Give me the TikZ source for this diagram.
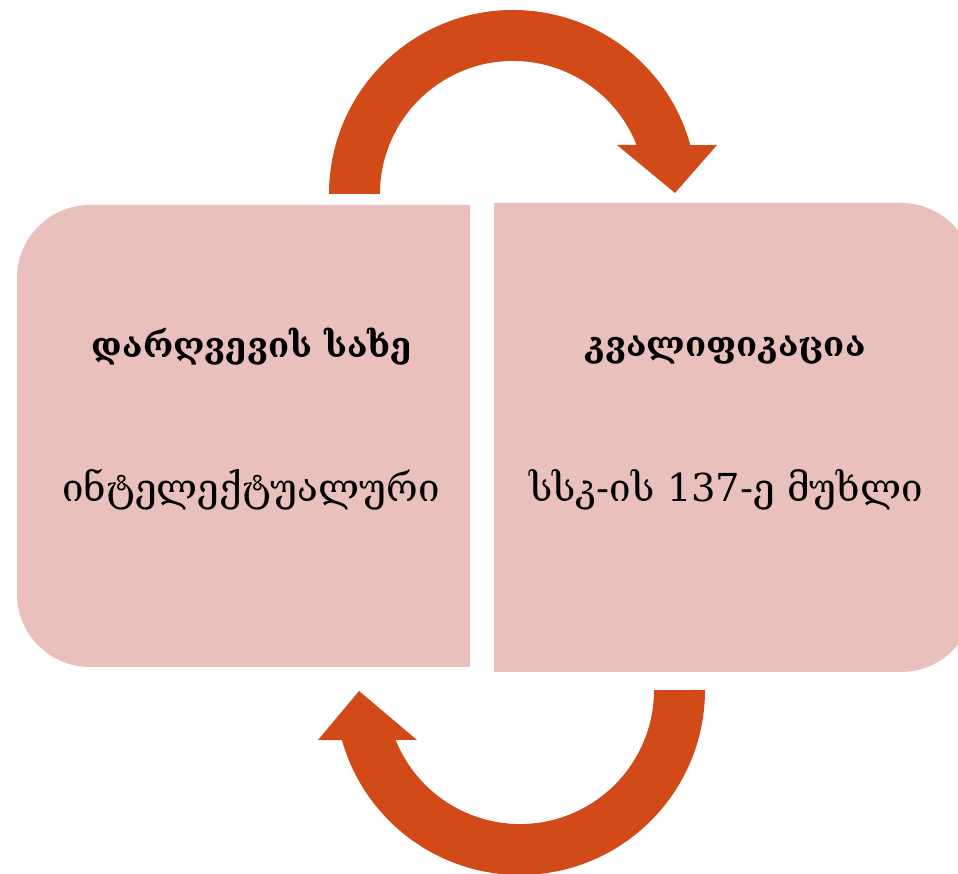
\documentclass[tikz,border=0pt]{standalone}
\usepackage{fontspec}
\newfontfamily\geofont{DejaVu Serif}
\definecolor{boxfill}{RGB}{233,192,188}
\definecolor{arrowfill}{RGB}{210,74,24}
\begin{document}
\begin{tikzpicture}[x=1pt,y=1pt,
  title/.style={font=\geofont\bfseries\fontsize{34.5}{40}\selectfont, text=black, inner sep=0pt},
  body/.style={font=\geofont\fontsize{38.5}{44}\selectfont, text=black, inner sep=0pt}]
\useasboundingbox (0,0) rectangle (958,874);
% left box
\begin{scope}
  \clip (0,0) rectangle (470,874);
  \fill[boxfill, rounded corners=73pt] (17,207) rectangle (600,669);
\end{scope}
% right box
\begin{scope}
  \clip (494,0) rectangle (958,874);
  \fill[boxfill, rounded corners=73pt] (400,202) rectangle (974,671);
\end{scope}
% top arrow
\fill[arrowfill] (329,680) arc[start angle=180, end angle=15.4, radius=184]
  -- (717,729) -- (675,681) -- (617,729) -- (636.6,729)
  arc[start angle=21.6, end angle=180, radius=133] -- cycle;
% bottom arrow
\fill[arrowfill] (705,184) arc[start angle=0, end angle=-164.3, radius=185]
  -- (318,134) -- (359,183) -- (417,134) -- (395.7,134)
  arc[start angle=-158.1, end angle=0, radius=134] -- cycle;
% texts
\node[title] (lt) at (252,527) {დარღვევის სახე};
\node[body] (lb) at (251,384) {ინტელექტუალური};
\node[title] (rt) at (725,524) {კვალიფიკაცია};
\node[body] (rb) at (726,384) {სსკ-ის 137-ე მუხლი};
\end{tikzpicture}
\end{document}
